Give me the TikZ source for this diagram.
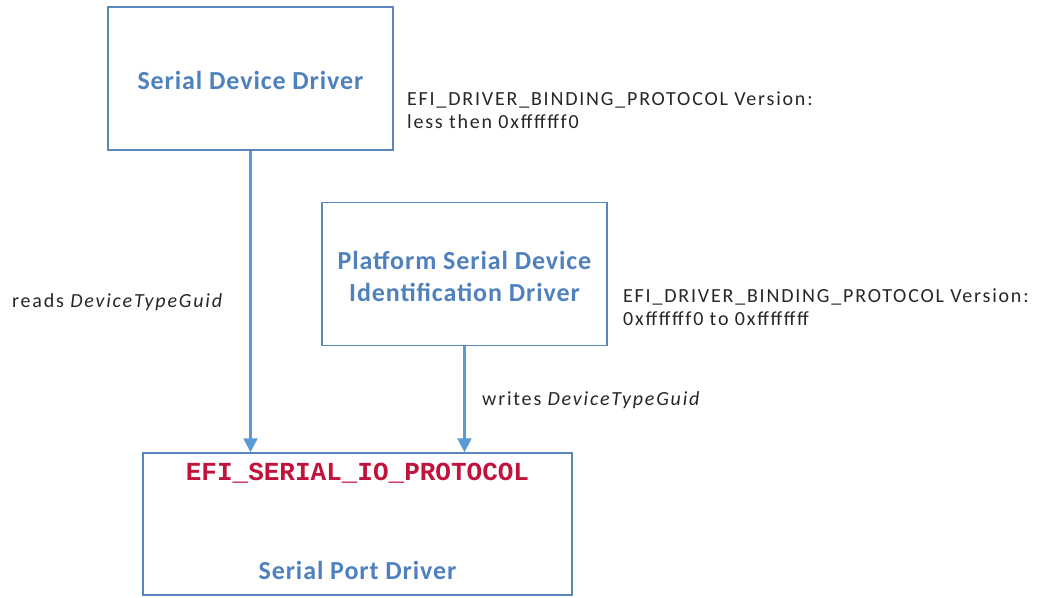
\documentclass[tikz,border=0pt]{standalone}
\usepackage{fontspec}
\setmainfont{Carlito}
\newfontfamily\monofont{Liberation Mono}
\newfontfamily\lblfont[LetterSpace=9]{Carlito}
\newfontfamily\titlefont[LetterSpace=3.5]{Carlito}
\usetikzlibrary{arrows.meta}
\definecolor{boxblue}{HTML}{5A86BE}
\definecolor{titleblue}{HTML}{4F81BD}
\definecolor{arrowblue}{HTML}{5B9BD5}
\definecolor{protored}{HTML}{C0143C}
\definecolor{labelgray}{HTML}{262626}
\begin{document}
\begin{tikzpicture}[x=1pt,y=-1pt,
  drvbox/.style={draw=boxblue,line width=1.5pt,fill=white,inner sep=0pt,minimum width=285pt,minimum height=143pt},
  titletext/.style={font=\fontsize{26}{32}\selectfont\titlefont\bfseries,text=titleblue,align=center,inner sep=0pt},
  lbl/.style={font=\fontsize{20}{23}\selectfont\lblfont,text=labelgray,align=left,inner sep=0pt,anchor=west},
  arr/.style={draw=arrowblue,line width=2.5pt,-{Triangle[length=14pt,width=14pt]}}]
\useasboundingbox (0,0) rectangle (1038,597);
\node[drvbox] (sdd) at (250.5,78.5) {};
\node[titletext] (sddt) at (250.5,80) {Serial Device Driver};
\node[drvbox] (psd) at (464.5,274) {};
\node[titletext] (psdt) at (464.5,276) {Platform Serial Device\\Identification Driver};
\node[drvbox,minimum width=429pt,minimum height=142pt] (port) at (357.5,524) {};
\node[inner sep=0pt,font=\fontsize{26}{30}\selectfont\monofont\bfseries,text=protored] (proto) at (357.5,473) {EFI\_SERIAL\_IO\_PROTOCOL};
\node[titletext] (portt) at (357.5,570) {Serial Port Driver};
\draw[arr] (sdd.south) -- (sdd.south |- port.north);
\draw[arr] (psd.south) -- (psd.south |- port.north);
\node[lbl] (l1) at (407,110.5) {EFI\_DRIVER\_BINDING\_PROTOCOL Version:\\less then 0xfffffff0};
\node[lbl] (l2) at (623,307.5) {EFI\_DRIVER\_BINDING\_PROTOCOL Version:\\0xfffffff0 to 0xffffffff};
\node[lbl] (l3) at (12,302) {reads \textit{DeviceTypeGuid}};
\node[lbl] (l4) at (482,400) {writes \textit{DeviceTypeGuid}};
\end{tikzpicture}
\end{document}
